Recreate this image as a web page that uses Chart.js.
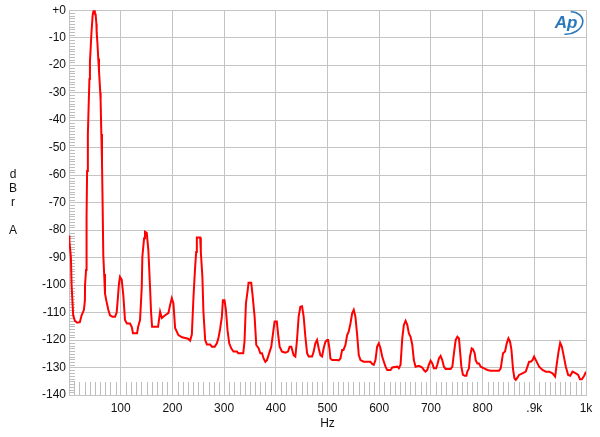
<!DOCTYPE html>
<html lang="en">
<head>
  <meta charset="UTF-8">
  <title>dBr A spectrum</title>
  <script src="https://cdn.jsdelivr.net/npm/chart.js"></script>
  <style>
    html, body { margin: 0; padding: 0; background: #fff; }
    .wrap { width: 600px; height: 437px; position: relative; }
  </style>
</head>
<body>
  <div class="wrap"><canvas id="grafico" width="600" height="437"></canvas></div>

  <script>
    // frequency (Hz) and level (dBr A)
    const freqs = [
      0, 0.8, 3.7, 5, 8.1, 11.4, 16, 21, 24.4, 28.9, 30.8, 31, 33, 34, 35, 36.5, 38, 39.5, 40.5, 42.4,
      43.5, 45.7, 47, 48.5, 50, 51.5, 53, 53.5, 55, 56.6, 58, 60.5, 61.2, 62.5, 63.8, 65, 66.3, 68, 69.6, 72,
      73.4, 76, 79.3, 84, 89, 92.2, 94.2, 96.7, 98.6, 101.9, 105, 108.3, 112, 118, 121.3, 123.8, 131.6, 134, 137.4, 140.7,
      141.9, 145.2, 147, 150.4, 153.5, 156.8, 158.7, 160.7, 172.3, 176.2, 179.5, 185.9, 192.2, 195.5, 198.8, 202, 205.2, 211.6, 218.8, 230.4,
      234.3, 237.6, 240.7, 244, 246, 247.3, 253.7, 255, 258, 260, 263.4, 266.7, 273, 276.4, 282, 286, 289, 292.4, 295.7, 297.7,
      300.8, 303.5, 306.6, 309.9, 313.8, 318.2, 324.8, 327.3, 337, 339.5, 342.2, 345.3, 347.3, 352.5, 355, 359, 362.2, 366.7, 370, 373.3,
      376.4, 379.7, 383, 386, 391.3, 394.6, 397.7, 402, 404.3, 407.4, 412, 418.4, 423.6, 426.7, 430, 434.5, 437.8, 441, 444.2, 447.5,
      450.8, 453.9, 457.2, 460.5, 463.6, 470.2, 473.3, 476.5, 479.8, 483, 486.2, 489.5, 492.6, 496, 499.2, 501.2, 503.7, 505.6, 509, 518.6,
      521.7, 525, 528.3, 531, 534.7, 538, 541, 544.4, 547.7, 550.8, 554, 557.4, 560.5, 563.8, 570, 583, 586.4, 589.5, 592.8, 596,
      599.2, 602.5, 605.8, 609, 612.2, 615.5, 622, 625.2, 635, 638, 641.3, 644.6, 647.7, 651, 654.3, 657.4, 660.7, 664, 667, 670.3,
      676.7, 683.3, 686.4, 689.7, 693, 696, 699.4, 702.7, 705.8, 710, 712.4, 715.5, 718.8, 722, 725.2, 728.5, 738.2, 741.5, 744.6, 747.9,
      751.2, 754.3, 756.2, 758.9, 762, 765.3, 768.6, 770.5, 773.6, 775.6, 778.9, 781.4, 784.7, 786.6, 789.9, 793, 796.3, 802.7, 809.3, 815.7,
      831.8, 835, 837, 839.5, 843.4, 846.7, 850, 853.1, 855.8, 859, 861.6, 864.1, 867.4, 870.5, 877.1, 883.5, 886.8, 889.9, 893.2, 896.5,
      899.6, 903, 906.2, 909.3, 915.9, 922.3, 928.7, 935.3, 940.3, 943.6, 946.9, 950, 953.3, 956.6, 961, 965.5, 969.4, 974, 980.4, 984.9,
      988.2, 992, 996.5, 1000
    ];
    const levels = [
      -82, -84, -90, -100, -111, -113, -113.7, -113.5, -111, -109, -105.5, -100, -94.5, -75, -58.5, -45, -35, -25, -18.8, -12,
      -8, -2, -0.5, 0, -1, -1.5, -5, -8, -12, -17.6, -22, -30, -33, -45, -55, -70, -89, -96, -103, -105.5,
      -105.5, -109, -111, -111.5, -111.5, -110, -105.5, -99.4, -97, -98, -103.6, -112.7, -114, -114, -115.2, -117.5, -117.5, -115, -112.7, -101,
      -89.7, -83, -80.6, -81, -87.3, -101, -109.7, -115.2, -115.2, -109.7, -112, -111, -110.2, -107.3, -104.8, -106.7, -115.6, -118.2, -119, -119.5,
      -120.2, -118, -104.7, -93.3, -88, -82.7, -82.7, -88, -97, -109.7, -120, -121.6, -121.6, -122.4, -122.4, -121.2, -119.4, -115.8, -111.5, -105.5,
      -105.5, -109, -116.4, -121.2, -123, -124.2, -124.2, -124.8, -124.8, -120.6, -106.7, -102.4, -99.2, -99.2, -103.6, -111.5, -121.8, -123, -124.8, -124.8,
      -126.7, -127.9, -127.3, -125.5, -122.4, -117.6, -113.3, -113.3, -117.6, -122.4, -124.2, -124.6, -124.2, -122.4, -122.4, -125.5, -126, -120, -111.5, -107.9,
      -107.7, -111.5, -118.8, -124.8, -126, -126, -124.2, -121.2, -120, -123, -125.5, -126, -123, -120.6, -120, -120, -123, -126.7, -127.3, -127.3,
      -127.4, -126.7, -123.6, -123.6, -121.8, -118.2, -117, -114, -110.3, -109, -111.5, -118.2, -125.5, -127.3, -127.9, -127.9, -128.7, -129, -127.3, -122.4,
      -121.2, -123, -126, -127.9, -129.7, -130.9, -130.9, -130, -129.7, -130.3, -129, -119.4, -114.5, -113, -114.5, -117.6, -118.8, -121.8, -127.3, -129.7,
      -129.4, -130, -130.9, -131.5, -130.9, -129, -127.5, -128.5, -130.3, -130.3, -129, -126.7, -125.8, -127.3, -129.7, -130.5, -130.5, -129.7, -124.8, -120,
      -118.8, -119.4, -123.6, -129.7, -132.7, -133, -133, -131.5, -130.3, -126, -123, -123.3, -124.8, -127.3, -128.5, -128.5, -129.7, -130.3, -130.9, -131.2,
      -131.2, -130.3, -127.9, -124.8, -124.2, -121.2, -119.4, -120.6, -123.6, -130.9, -133.9, -134.5, -133.7, -132.7, -132.1, -131.5, -129.7, -127.9, -127.9, -127.3,
      -126, -127.3, -128.5, -129.7, -130.9, -131.5, -131.5, -132.1, -133.3, -128.5, -124.2, -121, -122.4, -125.5, -129.7, -132.7, -133, -131.5, -132.1, -132.7,
      -134.3, -134.3, -133, -131.5
    ];
    const xTicks = [100, 200, 300, 400, 500, 600, 700, 800, 900, 1000];
    const xTickLabels = ['100', '200', '300', '400', '500', '600', '700', '800', '.9k', '1k'];
    const yTicks = [0, -10, -20, -30, -40, -50, -60, -70, -80, -90, -100, -110, -120, -130, -140];
    const yTickLabels = ['+0', '-10', '-20', '-30', '-40', '-50', '-60', '-70', '-80', '-90', '-100', '-110', '-120', '-130', '-140'];

    const fonte = '"Liberation Sans", Arial, sans-serif';
    const corGrade = '#c4c4c4';

    // minor ticks, axis letters and the little logo
    const extras = {
      id: 'extras',
      beforeDatasetsDraw(chart) {
        const { ctx, chartArea: a, scales: { x, y } } = chart;
        ctx.save();
        ctx.strokeStyle = '#bdbdbd';
        ctx.lineWidth = 1;
        ctx.beginPath();
        for (let v = -1; v > -140; v--) {
          if (v % 10 === 0) continue;
          const py = Math.round(y.getPixelForValue(v)) + 0.5;
          ctx.moveTo(a.left, py);
          ctx.lineTo(a.left + 6, py);
        }
        for (let f = 10; f < 1000; f += 10) {
          if (f % 100 === 0) continue;
          const px = Math.round(x.getPixelForValue(f)) + 0.5;
          ctx.moveTo(px, a.bottom);
          ctx.lineTo(px, a.bottom - 13);
        }
        ctx.stroke();
        ctx.restore();
      },
      afterDraw(chart) {
        const { ctx, chartArea: a } = chart;
        ctx.save();
        ctx.fillStyle = '#111';
        ctx.font = '12px ' + fonte;
        ctx.textAlign = 'center';
        ctx.textBaseline = 'middle';
        ctx.fillText('d', 13, 175);
        ctx.fillText('B', 13, 189);
        ctx.fillText('r', 13, 203);
        ctx.fillText('A', 13, 231);
        ctx.fillText('Hz', (a.left + a.right) / 2, 424);

        // Ap logo
        ctx.fillStyle = '#2a78b9';
        ctx.strokeStyle = '#2a78b9';
        ctx.font = 'italic bold 17px ' + fonte;
        ctx.fillText('Ap', 566, 23);
        ctx.lineWidth = 1.6;
        ctx.beginPath();
        ctx.ellipse(568, 23, 15, 11, -0.25, -1.2, 2.0);
        ctx.stroke();
        ctx.restore();
      }
    };

    const ctx = document.getElementById('grafico').getContext('2d');
    const chart = new Chart(ctx, {
      type: 'line',
      data: {
        datasets: [{
          data: freqs.map((f, i) => ({ x: f, y: levels[i] })),
          borderColor: '#ff0000',
          borderWidth: 2,
          pointRadius: 0,
          tension: 0,
          fill: false
        }]
      },
      options: {
        responsive: false,
        animation: false,
        events: [],
        layout: { padding: { top: 10, right: 14, left: 0, bottom: 0 } },
        plugins: { legend: { display: false }, tooltip: { enabled: false } },
        scales: {
          x: {
            type: 'linear',
            min: 0,
            max: 1000,
            afterFit: s => { s.height = 42; },
            afterBuildTicks: s => { s.ticks = xTicks.map(v => ({ value: v })); },
            ticks: {
              padding: 6,
              color: '#111',
              font: { family: fonte, size: 12 },
              maxRotation: 0,
              autoSkip: false,
              callback: v => xTickLabels[xTicks.indexOf(v)]
            },
            grid: { color: corGrade, drawTicks: false },
            border: { display: true, color: corGrade }
          },
          y: {
            min: -140,
            max: 0,
            afterFit: s => { s.width = 69; },
            afterBuildTicks: s => { s.ticks = yTicks.map(v => ({ value: v })); },
            ticks: {
              padding: 3,
              color: '#111',
              font: { family: fonte, size: 12 },
              autoSkip: false,
              callback: v => yTickLabels[yTicks.indexOf(v)]
            },
            grid: { color: corGrade, drawTicks: false },
            border: { display: true, color: corGrade }
          }
        }
      },
      plugins: [extras]
    });
  </script>
</body>
</html>
